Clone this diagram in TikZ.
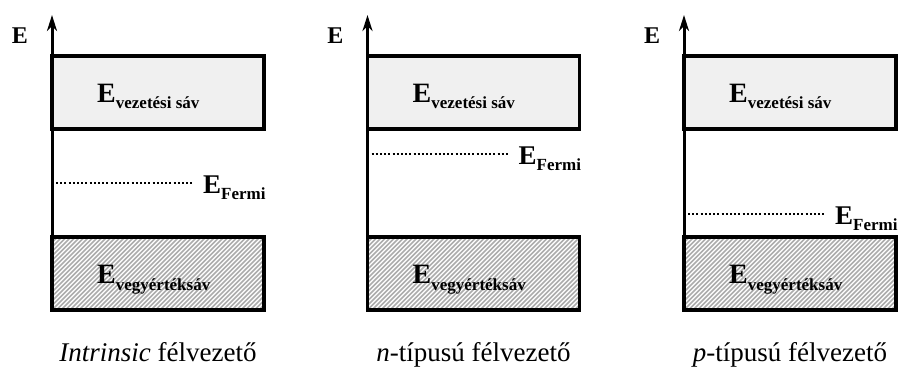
\documentclass[tikz,border=0pt]{standalone}
\usepackage{fontspec}
\setmainfont{Liberation Serif}
\usetikzlibrary{arrows.meta}

% band symbol: bold E with a lowered, smaller subscript word
\newcommand\bandE[2]{{\bfseries\fontsize{#1}{#1}\selectfont E\raisebox{-6.5pt}{\fontsize{17}{17}\selectfont #2}}}

\definecolor{condfill}{HTML}{F0F0F0}

\tikzset{
  band/.style={rectangle, draw=black, line width=3.5pt, minimum width=212pt,
    minimum height=73pt, inner sep=0pt, outer sep=0pt},
  cband/.style={band, fill=condfill},
  vband/.style={band, fill=white,
    path picture={
      \foreach \k in {-90,-85.5,...,230}
        \draw[gray!65, line width=1.5pt]
          ([xshift=\k pt]path picture bounding box.south west) -- ++(90pt,90pt);
    }},
  axisline/.style={line width=3pt, -{Stealth[length=16pt,width=10pt,inset=5pt]}},
  fermiline/.style={line width=2.2pt, dash pattern=on 2pt off 2.2pt},
  elabel/.style={inner sep=0pt, anchor=base west},
  axislabel/.style={inner sep=0pt, font=\bfseries\fontsize{24}{24}\selectfont},
  caption/.style={inner sep=0pt, anchor=base, font=\fontsize{27}{27}\selectfont}
}

\begin{document}
\begin{tikzpicture}[x=1pt,y=-1pt]
\useasboundingbox (0,0) rectangle (900,369);

% three panels: name suffix, box centre x, Fermi level y, caption
\foreach \p/\cx/\fy/\cap in {
    1/158/183/{\textit{Intrinsic} félvezető},
    2/473.5/154/{\textit{n}-típusú félvezető},
    3/790/214/{\textit{p}-típusú félvezető}} {
  % energy bands
  \node[vband] (v\p) at (\cx,273.5) {};
  \node[cband] (c\p) at (\cx,92.5) {};
  \node[elabel] (cl\p) at ([xshift=-61pt,yshift=-10pt]c\p.center) {\bandE{28}{vezetési sáv}};
  \node[elabel] (vl\p) at ([xshift=-61pt,yshift=-10pt]v\p.center) {\bandE{28}{vegyértéksáv}};
  % energy axis
  \coordinate (top\p) at (\cx-106,15);
  \draw[axisline] (v\p.north west) -- (top\p);
  \node[axislabel] (E\p) at (\cx-138,36) {E};
  % Fermi level
  \coordinate (fs\p) at (\cx-102,\fy);
  \coordinate (fe\p) at (\cx+36,\fy);
  \draw[fermiline] (fs\p) -- (fe\p);
  \node[elabel] (fl\p) at ([xshift=9pt,yshift=-10pt]fe\p) {\bandE{27}{Fermi}};
  % caption
  \node[caption] (cap\p) at (\cx,361) {\cap};
}
\end{tikzpicture}
\end{document}
